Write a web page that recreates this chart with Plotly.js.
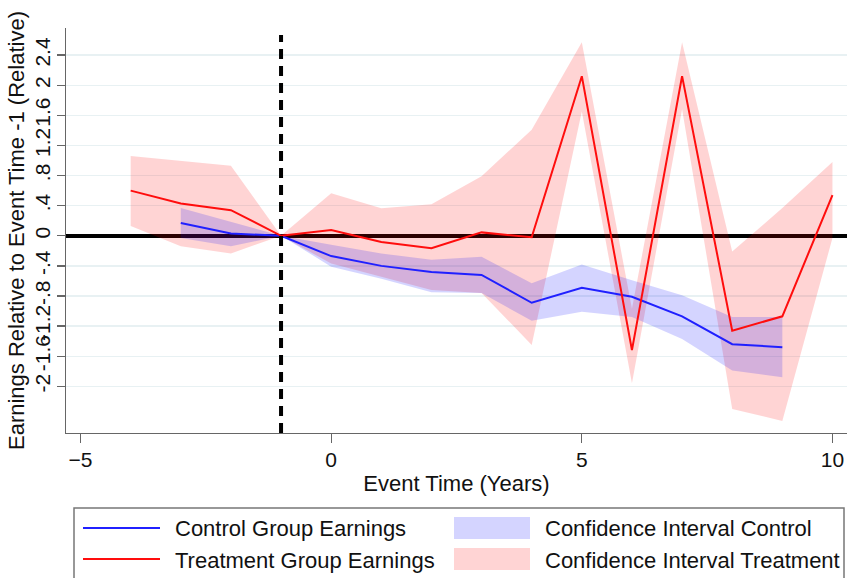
<!DOCTYPE html>
<html>
<head>
<meta charset="utf-8">
<script src="https://cdn.plot.ly/plotly-3.0.1.min.js"></script>
<style>html,body{margin:0;padding:0;background:#fff;}#chart{width:847px;height:578px;}</style>
</head>
<body>
<div id="chart"></div>
<script>
// ---- data ----
const treatX  = [-4, -3, -2, -1, 0, 1, 2, 3, 4, 5, 6, 7, 8, 9, 10];
const treatY  = [0.60, 0.43, 0.34, 0, 0.076, -0.084, -0.164, 0.045, -0.02, 2.12, -1.52, 2.12, -1.26, -1.07, 0.54];
const treatHi = [1.06, 1.00, 0.93, 0, 0.565, 0.365, 0.42, 0.79, 1.41, 2.57, -0.97, 2.57, -0.21, 0.37, 0.98];
const treatLo = [0.13, -0.14, -0.235, 0, -0.37, -0.54, -0.72, -0.76, -1.45, 1.65, -1.96, 1.68, -2.30, -2.46, -0.03];

const ctrlX  = [-3, -2, -1, 0, 1, 2, 3, 4, 5, 6, 7, 8, 9];
const ctrlY  = [0.17, 0.03, 0, -0.27, -0.40, -0.48, -0.52, -0.89, -0.69, -0.81, -1.07, -1.44, -1.48];
const ctrlHi = [0.37, 0.19, 0, -0.12, -0.235, -0.32, -0.28, -0.63, -0.38, -0.59, -0.79, -1.08, -1.08];
const ctrlLo = [-0.03, -0.14, 0, -0.41, -0.57, -0.75, -0.76, -1.13, -1.01, -1.08, -1.37, -1.79, -1.88];

const xTickVals = [-5, 0, 5, 10];
const yTickVals = [2.4, 2, 1.6, 1.2, 0.8, 0.4, 0, -0.4, -0.8, -1.2, -1.6, -2];
const yTickText = ["2.4", "2", "1.6", "1.2", ".8", ".4", "0", "-.4", "-.8", "-1.2", "-1.6", "-2"];

const labels = {
  ctrl: "Control Group Earnings",
  treat: "Treatment Group Earnings",
  ciCtrl: "Confidence Interval Control",
  ciTreat: "Confidence Interval Treatment",
  xTitle: "Event Time (Years)",
  yTitle: "Earnings Relative to Event Time -1 (Relative)"
};

// ---- styling ----
const FONT = "'Liberation Sans', Arial, Helvetica, sans-serif";
const pinkFill = "rgba(255,0,0,0.17)";
const blueFill = "rgba(0,0,255,0.17)";
const blueLine = "#2020ff";
const redLine = "#ff0d0d";
const axisCol = "#666666";

const M = {l: 66, r: 0, t: 28, b: 145};
const W = 847, H = 578;
const PL = M.l, PR = W - M.r, PT = M.t, PB = H - M.b;
const px = x => (x - PL) / (PR - PL);
const py = y => (PB - y) / (PB - PT);

function band(xs, hi, lo) {
  return {
    x: xs.concat(xs.slice().reverse()),
    y: hi.concat(lo.slice().reverse())
  };
}
const tb = band(treatX, treatHi, treatLo);
const cb = band(ctrlX, ctrlHi, ctrlLo);

const traces = [
  {x: tb.x, y: tb.y, type: "scatter", mode: "lines", fill: "toself", fillcolor: pinkFill,
   line: {width: 0, color: "rgba(0,0,0,0)"}, name: labels.ciTreat, showlegend: false, hoverinfo: "skip"},
  {x: cb.x, y: cb.y, type: "scatter", mode: "lines", fill: "toself", fillcolor: blueFill,
   line: {width: 0, color: "rgba(0,0,0,0)"}, name: labels.ciCtrl, showlegend: false, hoverinfo: "skip"},
  {x: ctrlX, y: ctrlY, type: "scatter", mode: "lines", line: {color: blueLine, width: 2},
   name: labels.ctrl, showlegend: false},
  {x: treatX, y: treatY, type: "scatter", mode: "lines", line: {color: redLine, width: 2},
   name: labels.treat, showlegend: false}
];

const shapes = [
  // dashed reference line at event time -1
  {type: "line", xref: "x", yref: "paper", x0: -1, x1: -1, y0: 0, y1: py(35),
   line: {color: "#000", width: 4, dash: "10px,7px"}, layer: "above"},
  // legend frame
  {type: "rect", xref: "paper", yref: "paper", x0: px(74), x1: px(844), y0: py(508), y1: py(640),
   line: {color: "#777", width: 1.5}, fillcolor: "rgba(0,0,0,0)"},
  {type: "line", xref: "paper", yref: "paper", x0: px(83), x1: px(160), y0: py(528), y1: py(528),
   line: {color: blueLine, width: 2}},
  {type: "line", xref: "paper", yref: "paper", x0: px(83), x1: px(160), y0: py(559), y1: py(559),
   line: {color: redLine, width: 2}},
  {type: "rect", xref: "paper", yref: "paper", x0: px(454), x1: px(530), y0: py(539), y1: py(517),
   line: {width: 0}, fillcolor: blueFill},
  {type: "rect", xref: "paper", yref: "paper", x0: px(454), x1: px(530), y0: py(570), y1: py(548),
   line: {width: 0}, fillcolor: pinkFill}
];

const legFont = {family: FONT, size: 22, color: "#111"};
const annotations = [
  {text: labels.ctrl, x: px(173), y: py(528)},
  {text: labels.treat, x: px(173), y: py(560)},
  {text: labels.ciCtrl, x: px(543), y: py(528)},
  {text: labels.ciTreat, x: px(543), y: py(560)}
].map(a => Object.assign(a, {xref: "paper", yref: "paper", xanchor: "left", yanchor: "middle",
  showarrow: false, font: legFont}));

const layout = {
  width: W, height: H,
  margin: M,
  paper_bgcolor: "#fff", plot_bgcolor: "#fff",
  font: {family: FONT, size: 21, color: "#111"},
  showlegend: false,
  xaxis: {
    range: [-5.29, 10.29], tickmode: "array", tickvals: xTickVals,
    ticks: "outside", ticklen: 9, tickwidth: 1.3, tickcolor: axisCol,
    showline: true, linecolor: axisCol, linewidth: 1.3,
    showgrid: false, zeroline: false,
    ticklabelstandoff: -2,
    tickfont: {family: FONT, size: 21, color: "#111"},
    title: {text: labels.xTitle, font: {family: FONT, size: 22, color: "#111"}, standoff: 6},
    automargin: false
  },
  yaxis: {
    range: [-2.62, 2.76], tickmode: "array", tickvals: yTickVals, ticktext: yTickText,
    tickangle: -90,
    ticks: "outside", ticklen: 8, tickwidth: 1.3, tickcolor: axisCol,
    showline: true, linecolor: axisCol, linewidth: 1.3,
    showgrid: true, gridcolor: "#e8f1f3", gridwidth: 1.3,
    zeroline: true, zerolinecolor: "#000", zerolinewidth: 3.5,
    ticklabelstandoff: -2,
    tickfont: {family: FONT, size: 21, color: "#111"},
    title: {text: labels.yTitle, font: {family: FONT, size: 22, color: "#111"}, standoff: 0},
    automargin: true
  },
  shapes: shapes,
  annotations: annotations
};

Plotly.newPlot("chart", traces, layout, {displayModeBar: false, staticPlot: true});
</script>
</body>
</html>
